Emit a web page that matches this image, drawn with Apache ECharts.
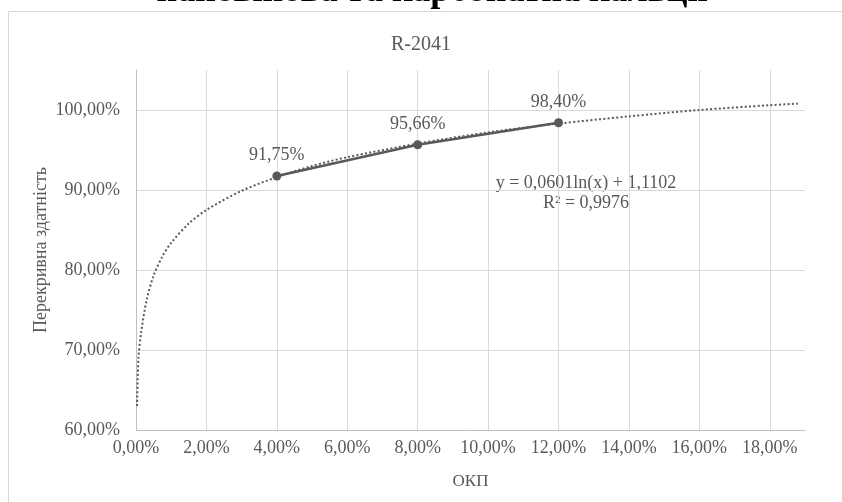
<!DOCTYPE html>
<html>
<head>
<meta charset="utf-8">
<script src="https://cdn.jsdelivr.net/npm/echarts@6/dist/echarts.min.js"></script>
<style>html,body{margin:0;padding:0;background:#fff;}#c{width:842px;height:502px;}</style>
</head>
<body>
<div id="c"></div>
<script>
// Data (percent units)
const chartTitle = 'R-2041';
const pageHeading = 'пановінова та карбонатна кальції';
const xName = 'ОКП';
const yName = 'Перекривна здатність';
const okpValues = [4, 8, 12];
const coverValues = [91.75, 95.66, 98.40];
// Logarithmic trendline
const trendX = [0.03, 0.07, 0.15, 0.3, 0.5, 0.75, 1, 1.5, 2, 3, 4, 5, 6, 8, 10, 12, 14, 16, 18, 18.8];
const trendY = [63.0, 69.0, 72.3, 76.2, 79.3, 81.7, 83.4, 85.8, 87.5, 89.9, 91.6, 93.0, 94.1, 95.8, 97.2, 98.3, 99.2, 100.0, 100.6, 100.8];
const equationText = 'y = 0,0601ln(x) + 1,1102';
const r2Text = 'R² = 0,9976';

const fmt = v => v.toFixed(2).replace('.', ',') + '%';
const serif = '"Liberation Serif", "DejaVu Serif", serif';
const grey = '#595959';

const chart = echarts.init(document.getElementById('c'), null, {renderer: 'canvas'});
chart.setOption({
  animation: false,
  backgroundColor: '#fff',
  title: {
    text: chartTitle, left: 'center', top: 30,
    textStyle: {fontFamily: serif, fontSize: 20, fontWeight: 'normal', color: grey}
  },
  grid: {left: 136, right: 37, top: 70, bottom: 72},
  xAxis: {
    type: 'value', min: 0, max: 19, interval: 2,
    name: xName, nameLocation: 'middle', nameGap: 43,
    nameTextStyle: {fontFamily: serif, fontSize: 17, color: grey},
    axisLine: {show: true, lineStyle: {color: '#bfbfbf', width: 1}},
    axisTick: {show: false},
    axisLabel: {formatter: fmt, showMaxLabel: false, margin: 9, fontFamily: serif, fontSize: 18, color: grey},
    splitLine: {show: true, showMaxLine: false, lineStyle: {color: '#d9d9d9', width: 1}}
  },
  yAxis: {
    type: 'value', min: 60, max: 105, interval: 10,
    name: yName, nameLocation: 'middle', nameGap: 86, nameMoveOverlap: false,
    nameTextStyle: {fontFamily: serif, fontSize: 18, color: grey},
    axisLine: {show: true, lineStyle: {color: '#bfbfbf', width: 1}},
    axisTick: {show: false},
    axisLabel: {formatter: fmt, showMaxLabel: false, margin: 16, fontFamily: serif, fontSize: 18, color: grey},
    splitLine: {show: true, showMaxLine: false, lineStyle: {color: '#d9d9d9', width: 1}}
  },
  series: [
    {
      type: 'line',
      data: okpValues.map((x, i) => [x, coverValues[i]]),
      symbol: 'circle', symbolSize: 9,
      itemStyle: {color: grey},
      lineStyle: {color: grey, width: 2.5},
      label: {show: true, position: 'top', distance: 7, formatter: p => fmt(p.value[1]),
        fontFamily: serif, fontSize: 18, color: grey},
      z: 2
    },
    {
      type: 'line',
      data: trendX.map((x, i) => [x, trendY[i]]),
      symbol: 'none', smooth: 0.3,
      lineStyle: {color: grey, width: 2, type: [2, 2.3]},
      z: 3
    }
  ],
  graphic: [
    {type: 'rect', shape: {x: 8.5, y: 11.5, width: 900, height: 600}, style: {fill: null, stroke: '#d9d9d9', lineWidth: 1}, silent: true},
    {type: 'text', x: 432, y: -8, style: {text: pageHeading, font: 'bold 36px ' + serif, fill: '#000', textAlign: 'center', verticalAlign: 'middle'}},
    {type: 'text', x: 586, y: 183, style: {text: equationText, font: '18px ' + serif, fill: grey, textAlign: 'center', verticalAlign: 'middle'}},
    {type: 'text', x: 586, y: 203, style: {text: r2Text, font: '18px ' + serif, fill: grey, textAlign: 'center', verticalAlign: 'middle'}}
  ]
});
</script>
</body>
</html>
